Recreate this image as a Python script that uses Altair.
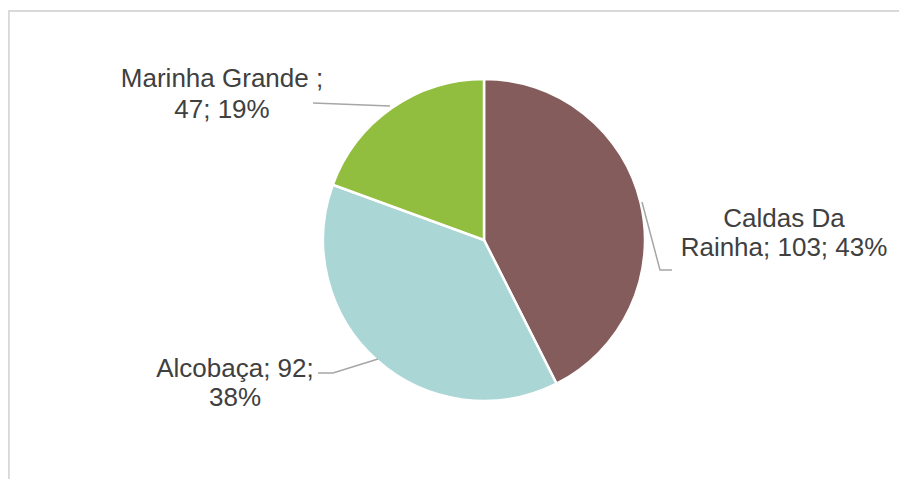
import altair as alt
import pandas as pd

# ---- data ----
categories = ["Caldas Da Rainha", "Alcobaça", "Marinha Grande "]
values = [103, 92, 47]
colors = ["#845C5B", "#ABD6D6", "#92BE3F"]
first_line_words = [2, 2, 3]  # where the data label wraps

# ---- layout (chart pixel coordinates) ----
W, H = 891, 471
CX, CY, R = 476, 232, 161
label_pos = [  # (center x, baseline line1, baseline line2)
    (776, 219, 248),
    (227, 369, 398),
    (214, 79, 110),
]
leaders = [
    [(634, 194), (652, 262), (664, 262)],
    [(370, 351), (325, 365), (310, 365)],
    [(305, 95), (382, 98)],
]

total = sum(values)
pcts = [round(v * 100 / total) for v in values]

df = pd.DataFrame({"cat": categories, "val": values, "order": list(range(len(values)))})

rows = []
for i, (c, v, p) in enumerate(zip(categories, values, pcts)):
    words = f"{c}; {v}; {p}%".split()
    l1 = " ".join(words[: first_line_words[i]])
    l2 = " ".join(words[first_line_words[i]:])
    x, y1, y2 = label_pos[i]
    rows.append({"text": l1, "x": x, "y": y1})
    rows.append({"text": l2, "x": x, "y": y2})
df_lab = pd.DataFrame(rows)

lead_rows = []
for g, pts in enumerate(leaders):
    for k, (x, y) in enumerate(pts):
        lead_rows.append({"g": g, "k": k, "x": x, "y": y})
df_lead = pd.DataFrame(lead_rows)

pie = alt.Chart(df).mark_arc(radius=R, stroke="white", strokeWidth=2.5).encode(
    theta=alt.Theta("val:Q", stack=True),
    order=alt.Order("order:Q"),
    color=alt.Color("cat:N", scale=alt.Scale(domain=categories, range=colors), legend=None),
    x=alt.value(CX),
    y=alt.value(CY),
)

labels = alt.Chart(df_lab).mark_text(
    font="Liberation Sans", fontSize=26, color="#404040", align="center", baseline="alphabetic"
).encode(
    x=alt.X("x:Q", scale=None),
    y=alt.Y("y:Q", scale=None),
    text="text:N",
)

lead = alt.Chart(df_lead).mark_line(color="#A6A6A6", strokeWidth=1.5).encode(
    x=alt.X("x:Q", scale=None),
    y=alt.Y("y:Q", scale=None),
    detail="g:N",
    order="k:Q",
)

frame_top = alt.Chart(df).mark_rule(color="#D9D9D9", strokeWidth=2).encode(
    x=alt.value(0), x2=alt.value(W), y=alt.value(3)
)
frame_left = alt.Chart(df).mark_rule(color="#D9D9D9", strokeWidth=2).encode(
    x=alt.value(0.5), y=alt.value(3), y2=alt.value(H)
)

chart = alt.layer(frame_top, frame_left, pie, lead, labels).properties(
    width=W, height=H, autosize=alt.AutoSizeParams(type="none"), padding=0, background="white"
).configure_view(stroke=None)

chart.save("out.html", embed_options={"renderer": "svg", "actions": False})
